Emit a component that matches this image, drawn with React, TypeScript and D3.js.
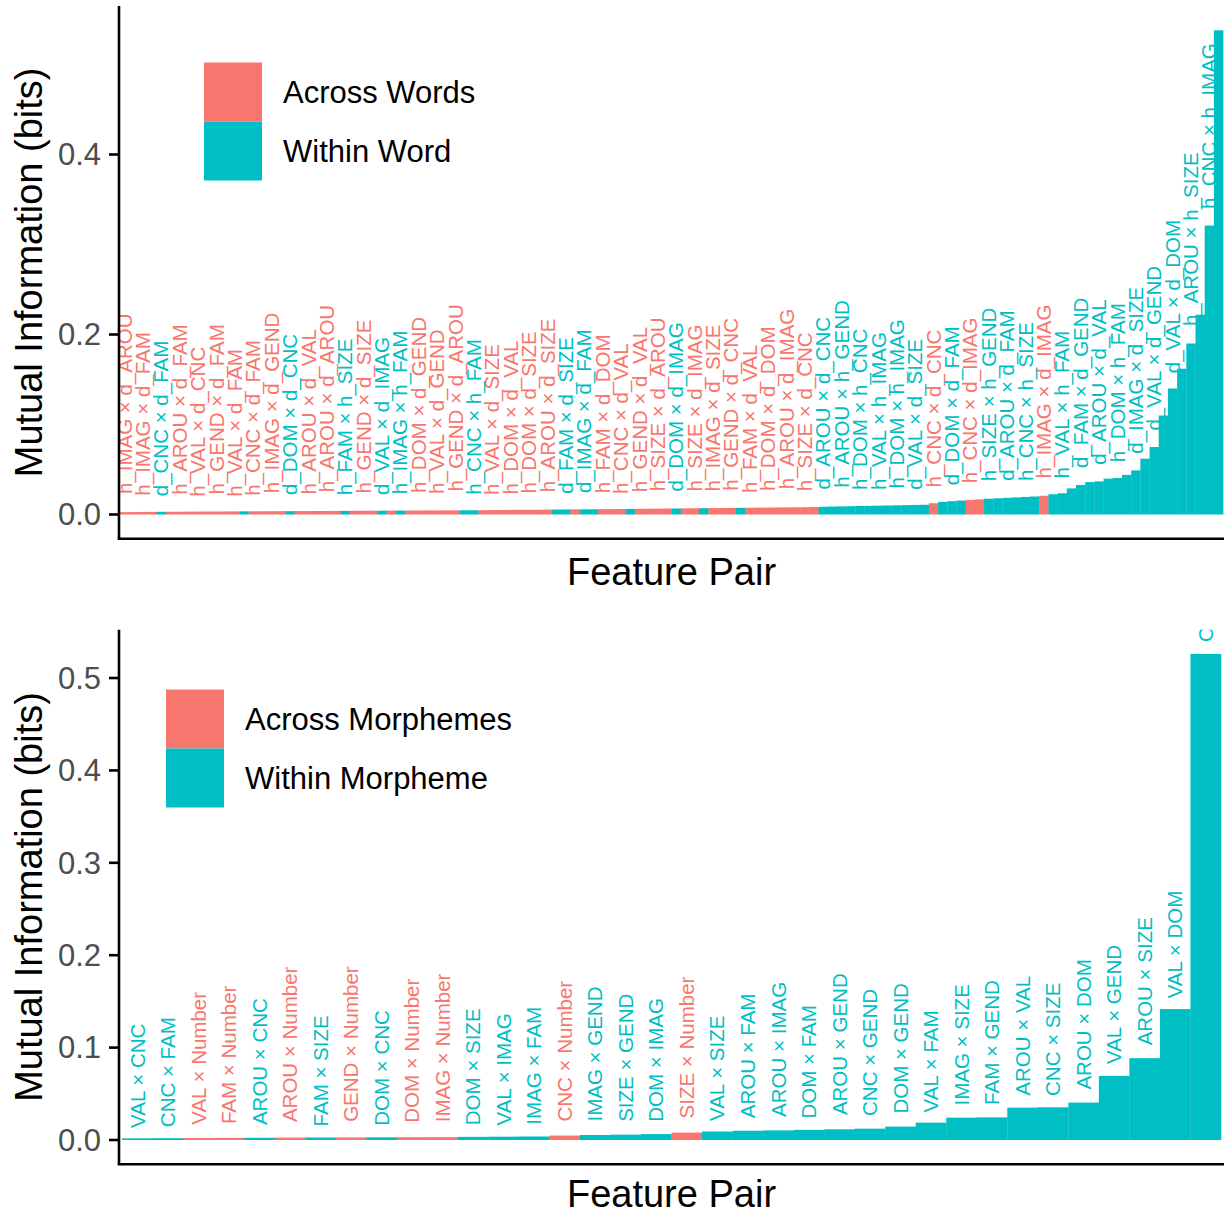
import React, { useEffect, useRef } from "react";
import * as d3 from "d3";

const ACROSS_COLOR = "#F8766D";
const WITHIN_COLOR = "#00BFC4";

// ---------- Top chart: word-level feature pairs (sorted ascending) ----------
const wordPairs: string[] = [
  "h_IMAG × d_AROU", "h_VAL × d_VAL", "h_IMAG × d_FAM", "h_VAL × d_AROU", "d_CNC × d_FAM",
  "h_VAL × d_DOM", "h_AROU × d_FAM", "h_VAL × d_IMAG", "h_VAL × d_CNC", "h_AROU × d_DOM",
  "h_GEND × d_FAM", "h_AROU × d_CNC", "h_VAL × d_FAM", "h_VAL × h_AROU", "h_CNC × d_FAM",
  "h_AROU × d_GEND", "h_IMAG × d_GEND", "h_DOM × d_AROU", "d_DOM × d_CNC", "h_DOM × d_CNC",
  "h_AROU × d_VAL", "h_DOM × d_IMAG", "h_AROU × d_AROU", "h_DOM × d_FAM", "h_FAM × h_SIZE",
  "h_CNC × d_AROU", "h_GEND × d_SIZE", "h_CNC × d_DOM", "d_VAL × d_IMAG", "h_CNC × d_SIZE",
  "h_IMAG × h_FAM", "h_CNC × d_GEND", "h_DOM × d_GEND", "h_IMAG × d_VAL", "h_VAL × d_GEND",
  "h_IMAG × d_DOM", "h_GEND × d_AROU", "d_VAL × d_CNC", "h_CNC × h_FAM", "h_IMAG × d_CNC",
  "h_VAL × d_SIZE", "h_FAM × d_AROU", "h_DOM × d_VAL", "h_FAM × d_CNC", "h_DOM × d_SIZE",
  "h_FAM × d_IMAG", "h_AROU × d_SIZE", "h_VAL × h_CNC", "d_FAM × d_SIZE", "h_FAM × d_FAM",
  "d_IMAG × d_FAM", "d_VAL × d_FAM", "h_FAM × d_DOM", "h_FAM × d_SIZE", "h_CNC × d_VAL",
  "h_AROU × h_DOM", "h_GEND × d_VAL", "h_FAM × d_GEND", "h_SIZE × d_AROU", "h_SIZE × d_VAL",
  "d_DOM × d_IMAG", "h_SIZE × d_DOM", "h_SIZE × d_IMAG", "h_AROU × h_CNC", "h_IMAG × d_SIZE",
  "h_SIZE × d_FAM", "h_GEND × d_CNC", "d_AROU × d_IMAG", "h_FAM × d_VAL", "h_SIZE × d_SIZE",
  "h_DOM × d_DOM", "h_SIZE × d_GEND", "h_AROU × d_IMAG", "h_GEND × d_DOM", "h_SIZE × d_CNC",
  "h_GEND × d_IMAG", "d_AROU × d_CNC", "h_AROU × h_IMAG", "h_AROU × h_GEND", "d_DOM × d_SIZE",
  "h_DOM × h_CNC", "h_AROU × h_FAM", "h_VAL × h_IMAG", "d_DOM × d_GEND", "h_DOM × h_IMAG",
  "h_DOM × h_SIZE", "d_VAL × d_SIZE", "d_CNC × d_GEND", "h_CNC × d_CNC", "h_DOM × h_GEND",
  "d_DOM × d_FAM", "d_AROU × d_GEND", "h_CNC × d_IMAG", "h_GEND × d_GEND", "h_SIZE × h_GEND",
  "h_CNC × h_GEND", "d_AROU × d_FAM", "d_IMAG × d_GEND", "h_CNC × h_SIZE", "h_IMAG × h_GEND",
  "h_IMAG × d_IMAG", "d_SIZE × d_GEND", "h_VAL × h_FAM", "h_FAM × h_GEND", "d_FAM × d_GEND",
  "d_CNC × d_SIZE", "d_AROU × d_VAL", "h_IMAG × h_SIZE", "h_DOM × h_FAM", "d_AROU × d_DOM",
  "d_IMAG × d_SIZE", "h_VAL × h_SIZE", "d_VAL × d_GEND", "h_VAL × h_GEND", "d_VAL × d_DOM",
  "d_AROU × d_SIZE", "h_AROU × h_SIZE", "h_VAL × h_DOM", "h_CNC × h_IMAG", "d_CNC × d_IMAG",
];

const wordMI: number[] = [
  0.0026, 0.0027, 0.0028, 0.0029, 0.0030, 0.0030, 0.0031, 0.0032, 0.0032, 0.0033,
  0.0033, 0.0034, 0.0034, 0.0035, 0.0035, 0.0036, 0.0036, 0.0037, 0.0037, 0.0038,
  0.0038, 0.0039, 0.0039, 0.0040, 0.0040, 0.0041, 0.0041, 0.0042, 0.0042, 0.0043,
  0.0043, 0.0044, 0.0044, 0.0045, 0.0045, 0.0046, 0.0046, 0.0047, 0.0047, 0.0048,
  0.0049, 0.0050, 0.0051, 0.0052, 0.0052, 0.0053, 0.0054, 0.0055, 0.0056, 0.0057,
  0.0057, 0.0058, 0.0059, 0.0060, 0.0061, 0.0062, 0.0063, 0.0064, 0.0065, 0.0066,
  0.0067, 0.0068, 0.0069, 0.0070, 0.0071, 0.0072, 0.0073, 0.0074, 0.0075, 0.0076,
  0.0077, 0.0078, 0.0079, 0.0080, 0.0081, 0.0083, 0.0086, 0.0088, 0.0090, 0.0092,
  0.0094, 0.0096, 0.0098, 0.0100, 0.0102, 0.0104, 0.0106, 0.0108, 0.0125, 0.0140,
  0.0148, 0.0155, 0.0162, 0.0168, 0.0175, 0.0180, 0.0185, 0.0190, 0.0195, 0.0200,
  0.0208, 0.0225, 0.0236, 0.0290, 0.0328, 0.0360, 0.0368, 0.0398, 0.0405, 0.0440,
  0.0490, 0.0620, 0.0750, 0.1100, 0.1400, 0.1620, 0.1900, 0.2220, 0.3210, 0.5380,
];

const wordTicks: number[] = [0, 0.2, 0.4];
const wordLegend: string[] = ["Across Words", "Within Word"];

// ---------- Bottom chart: morpheme-level feature pairs ----------
const morphPairs: string[] = [
  "VAL × CNC", "CNC × FAM", "VAL × Number", "FAM × Number", "AROU × CNC",
  "AROU × Number", "FAM × SIZE", "GEND × Number", "DOM × CNC", "DOM × Number",
  "IMAG × Number", "DOM × SIZE", "VAL × IMAG", "IMAG × FAM", "CNC × Number",
  "IMAG × GEND", "SIZE × GEND", "DOM × IMAG", "SIZE × Number", "VAL × SIZE",
  "AROU × FAM", "AROU × IMAG", "DOM × FAM", "AROU × GEND", "CNC × GEND",
  "DOM × GEND", "VAL × FAM", "IMAG × SIZE", "FAM × GEND", "AROU × VAL",
  "CNC × SIZE", "AROU × DOM", "VAL × GEND", "AROU × SIZE", "VAL × DOM",
  "CNC × IMAG",
];

const morphMI: number[] = [
  0.0018, 0.0020, 0.0022, 0.0023, 0.0024, 0.0026, 0.0027, 0.0028, 0.0029, 0.0030,
  0.0031, 0.0034, 0.0036, 0.0038, 0.0048, 0.0054, 0.0058, 0.0064, 0.0080, 0.0092,
  0.0100, 0.0104, 0.0110, 0.0116, 0.0123, 0.0145, 0.0188, 0.0242, 0.0245, 0.0350,
  0.0354, 0.0405, 0.0694, 0.0886, 0.1417, 0.5260,
];

const morphTicks: number[] = [0, 0.1, 0.2, 0.3, 0.4, 0.5];
const morphLegend: string[] = ["Across Morphemes", "Within Morpheme"];

const yTitle = "Mutual Information (bits)";
const xTitle = "Feature Pair";

const isAcrossWord = (name: string) => {
  const [a, b] = name.split(" × ");
  return a.slice(0, 2) !== b.slice(0, 2);
};
const isAcrossMorph = (name: string) => name.includes("Number");

const FONT = "'Liberation Sans', Arial, Helvetica, sans-serif";

interface PanelCfg {
  id: string;
  names: string[];
  values: number[];
  across: (n: string) => boolean;
  ticks: number[];
  legend: string[];
  top: number;
  bottom: number;
  left: number;
  right: number;
  labelStride: number;
  legendX: number;
  legendY: number;
  titleY: number;
}

function drawPanel(svg: d3.Selection<SVGSVGElement, unknown, null, undefined>, c: PanelCfg) {
  const g = svg.append("g");
  const maxV = d3.max(c.values) as number;
  const x = d3
    .scaleBand<string>()
    .domain(c.names)
    .range([c.left, c.right])
    .paddingInner(0)
    .paddingOuter(0.1);
  const y = d3
    .scaleLinear()
    .domain([-0.05 * maxV, 1.05 * maxV])
    .range([c.bottom, c.top]);

  const clipId = `clip-${c.id}`;
  g.append("clipPath")
    .attr("id", clipId)
    .append("rect")
    .attr("x", c.left)
    .attr("y", c.top)
    .attr("width", c.right - c.left)
    .attr("height", c.bottom - c.top);

  const colorOf = (n: string) => (c.across(n) ? ACROSS_COLOR : WITHIN_COLOR);

  // bars
  g.append("g")
    .attr("clip-path", `url(#${clipId})`)
    .selectAll("rect")
    .data(c.names)
    .join("rect")
    .attr("x", (d) => x(d) as number)
    .attr("width", x.bandwidth() + 0.3)
    .attr("y", (d, i) => y(c.values[i]))
    .attr("height", (d, i) => y(0) - y(c.values[i]))
    .attr("fill", (d) => colorOf(d));

  // labels (hjust = -0.1, rotated 90)
  const lg = g.append("g").attr("clip-path", `url(#${clipId})`);
  c.names.forEach((n, i) => {
    if (i % c.labelStride !== 0) return;
    const cx = (x(n) as number) + x.bandwidth() / 2;
    const yt = y(c.values[i]);
    const t = lg
      .append("text")
      .attr("transform", `translate(${cx},${yt}) rotate(-90)`)
      .attr("dy", "0.35em")
      .attr("font-family", FONT)
      .attr("font-size", 20.5)
      .attr("fill", colorOf(n))
      .text(n);
    const w = (t.node() as SVGTextElement).getComputedTextLength();
    t.attr("x", 0.1 * w);
  });

  // axes
  g.append("line")
    .attr("x1", c.left)
    .attr("x2", c.left)
    .attr("y1", c.top)
    .attr("y2", c.bottom)
    .attr("stroke", "#000")
    .attr("stroke-width", 2.6);
  g.append("line")
    .attr("x1", c.left - 1.3)
    .attr("x2", c.right)
    .attr("y1", c.bottom)
    .attr("y2", c.bottom)
    .attr("stroke", "#000")
    .attr("stroke-width", 2.6);

  const fmt = d3.format(".1f");
  const tg = g.append("g");
  c.ticks.forEach((tv) => {
    tg.append("line")
      .attr("x1", c.left - 10)
      .attr("x2", c.left)
      .attr("y1", y(tv))
      .attr("y2", y(tv))
      .attr("stroke", "#000")
      .attr("stroke-width", 2.6);
    tg.append("text")
      .attr("x", c.left - 18)
      .attr("y", y(tv))
      .attr("dy", "0.35em")
      .attr("text-anchor", "end")
      .attr("font-family", FONT)
      .attr("font-size", 31)
      .attr("fill", "#4D4D4D")
      .text(fmt(tv));
  });

  // axis titles
  g.append("text")
    .attr("transform", `translate(41.5,${(c.top + c.bottom) / 2}) rotate(-90)`)
    .attr("text-anchor", "middle")
    .attr("font-family", FONT)
    .attr("font-size", 38)
    .attr("fill", "#000")
    .text(yTitle);
  g.append("text")
    .attr("x", (c.left + c.right) / 2)
    .attr("y", c.titleY)
    .attr("text-anchor", "middle")
    .attr("font-family", FONT)
    .attr("font-size", 38)
    .attr("fill", "#000")
    .text(xTitle);

  // legend
  const key = 59;
  const lgd = g.append("g");
  [ACROSS_COLOR, WITHIN_COLOR].forEach((col, k) => {
    lgd
      .append("rect")
      .attr("x", c.legendX)
      .attr("y", c.legendY + k * key)
      .attr("width", 58)
      .attr("height", key)
      .attr("fill", col);
    lgd
      .append("text")
      .attr("x", c.legendX + 79)
      .attr("y", c.legendY + k * key + key / 2)
      .attr("dy", "0.35em")
      .attr("font-family", FONT)
      .attr("font-size", 31)
      .attr("fill", "#000")
      .text(c.legend[k]);
  });
}

export default function App() {
  const ref = useRef<SVGSVGElement | null>(null);
  useEffect(() => {
    document.body.style.margin = "0";
    const svg = d3.select(ref.current as SVGSVGElement);
    svg.selectAll("*").remove();
    drawPanel(svg, {
      id: "words",
      names: wordPairs,
      values: wordMI,
      across: isAcrossWord,
      ticks: wordTicks,
      legend: wordLegend,
      top: 6.1,
      bottom: 538.7,
      left: 119,
      right: 1224,
      labelStride: 2,
      legendX: 204,
      legendY: 62.5,
      titleY: 584.5,
    });
    drawPanel(svg, {
      id: "morphs",
      names: morphPairs,
      values: morphMI,
      across: isAcrossMorph,
      ticks: morphTicks,
      legend: morphLegend,
      top: 629.7,
      bottom: 1164.3,
      left: 119,
      right: 1224,
      labelStride: 1,
      legendX: 166,
      legendY: 689.5,
      titleY: 1207,
    });
  }, []);
  return (
    <svg
      ref={ref}
      width={1231}
      height={1215}
      style={{ display: "block", background: "#fff" }}
    />
  );
}
